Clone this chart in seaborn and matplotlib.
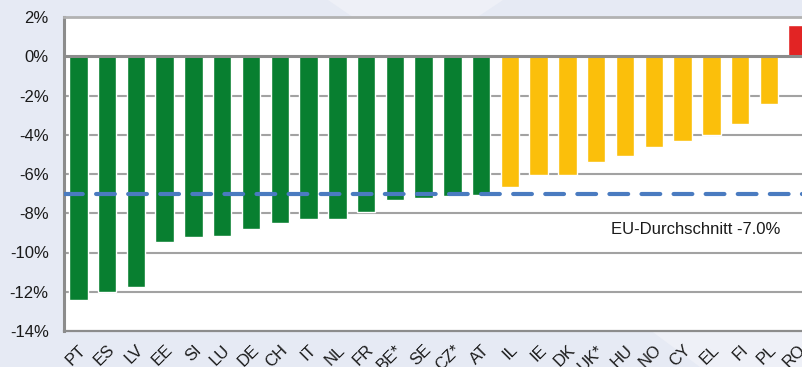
import matplotlib
matplotlib.use("Agg")
import matplotlib.pyplot as plt
from matplotlib.patches import Polygon
from matplotlib.ticker import FuncFormatter
import seaborn as sns
import pandas as pd

# data
countries = ["PT", "ES", "LV", "EE", "SI", "LU", "DE", "CH", "IT", "NL", "FR", "BE*", "SE",
             "CZ*", "AT", "IL", "IE", "DK", "UK*", "HU", "NO", "CY", "EL", "FI", "PL", "RO"]
values = [-12.4, -12.0, -11.75, -9.45, -9.2, -9.15, -8.8, -8.5, -8.3, -8.3, -7.95, -7.3, -7.2,
          -7.1, -7.05, -6.65, -6.05, -6.05, -5.4, -5.1, -4.6, -4.3, -4.0, -3.45, -2.45, 1.6]
groups = ["unter"] * 15 + ["über"] * 10 + ["plus"]
eu_avg = -7.0
eu_label = "EU-Durchschnitt -7.0%"
y_ticks = [2, 0, -2, -4, -6, -8, -10, -12, -14]

colors = {"unter": "#087f30", "über": "#fbbf0b", "plus": "#e22424"}

df = pd.DataFrame({"land": countries, "wert": values, "gruppe": groups})

sns.set_style("white")
plt.rcParams["font.family"] = ["Liberation Sans", "DejaVu Sans"]

fig = plt.figure(figsize=(8.03, 3.67), dpi=100)
fig.patch.set_facecolor("#e6eaf4")

# lighter diagonal bands in the background (behind the axes)
fig.patches.append(Polygon([(328 / 803, 1), (503 / 803, 1), (470 / 803, 0.94), (360 / 803, 0.94)],
                           closed=True, transform=fig.transFigure, facecolor="#eef0f7",
                           edgecolor="none", zorder=-5))
fig.patches.append(Polygon([(650 / 803, 0.1), (1, 0.1), (1, 0), (700 / 803, 0)],
                           closed=True, transform=fig.transFigure, facecolor="#eef0f7",
                           edgecolor="none", zorder=-5))

ax = fig.add_axes([64 / 803, 1 - 331 / 367, (812 - 64) / 803, (331 - 17) / 367])
ax.set_facecolor("white")

sns.barplot(data=df, x="land", y="wert", hue="gruppe", palette=colors, dodge=False,
            width=0.64, legend=False, ax=ax, zorder=3, saturation=1)

ax.set_xlim(-0.5, len(countries) - 0.5)
ax.set_ylim(-14, 2)
ax.set_yticks(y_ticks)
ax.yaxis.set_major_formatter(FuncFormatter(lambda v, p: f"{v:.0f}%"))
for y in y_ticks[2:-1]:
    ax.axhline(y, color="#a2a2a2", lw=1.5, zorder=1)
ax.axhline(0, color="#8c8c8c", lw=2.2, zorder=4)

ax.axhline(eu_avg, color="#4a7bc0", lw=3, ls=(0, (4.5, 3.2)), dash_capstyle="round", zorder=5)
ax.text(24.4, -8.82, eu_label, ha="right", va="center", fontsize=12, color="#1a1a1a")

for side in ["left", "bottom", "top"]:
    ax.spines[side].set_visible(True)
ax.spines["right"].set_visible(False)
ax.spines["left"].set_color("#8c8c8c")
ax.spines["left"].set_linewidth(2.2)
ax.spines["bottom"].set_color("#8c8c8c")
ax.spines["bottom"].set_linewidth(1.6)
ax.spines["top"].set_color("#b2b2b2")
ax.spines["top"].set_linewidth(2)

ax.set_xlabel("")
ax.set_ylabel("")
ax.tick_params(axis="y", length=0, pad=11, labelsize=12, labelcolor="#1a1a1a")
ax.tick_params(axis="x", length=0, pad=8, labelsize=12, labelcolor="#1a1a1a")
for lab in ax.get_xticklabels():
    lab.set_rotation(45)
    lab.set_ha("right")
    lab.set_va("top")
    lab.set_rotation_mode("anchor")

fig.savefig("out.png", dpi=100, facecolor=fig.get_facecolor())
